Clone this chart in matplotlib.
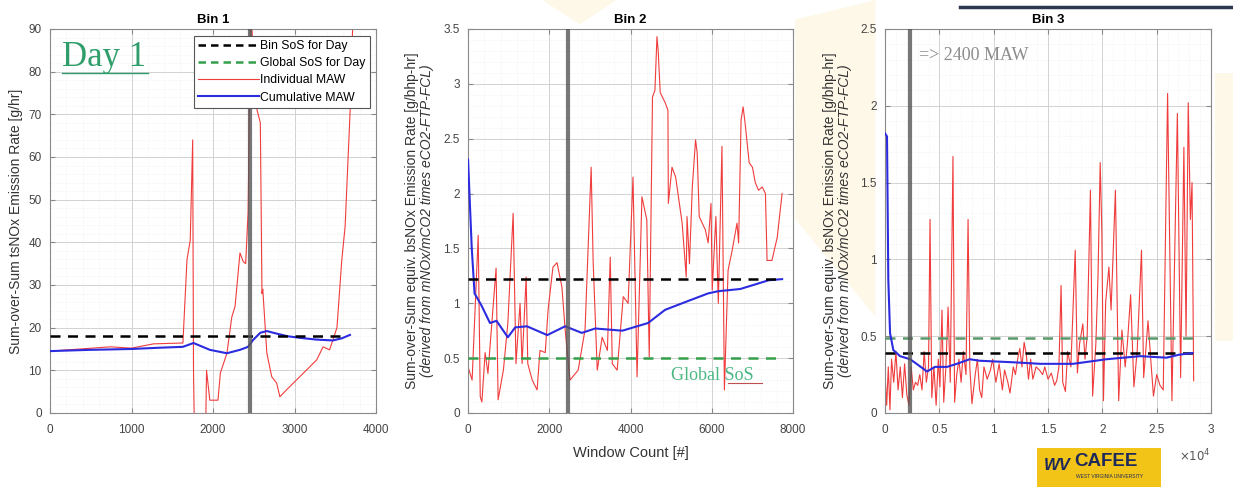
import matplotlib.pyplot as plt
import numpy as np
from matplotlib.lines import Line2D
from matplotlib.patches import Polygon, Rectangle
from matplotlib.ticker import MultipleLocator, AutoMinorLocator, FuncFormatter

plt.rcParams['font.family'] = ['Liberation Sans', 'DejaVu Sans']

# ---- Bin 1 (g/hr) ----
bin1_cum_x = [0, 500, 1000, 1350, 1630, 1760, 1960, 2170, 2330, 2430, 2490, 2580, 2660,
              2760, 2910, 3070, 3270, 3470, 3580, 3680]
bin1_cum_y = [14.5, 14.8, 15.0, 15.3, 15.5, 16.4, 14.8, 14.0, 14.8, 15.5, 17.1, 18.8, 19.2,
              18.7, 18.0, 17.6, 17.2, 17.0, 17.5, 18.3]
bin1_ind_x = [0, 740, 1000, 1270, 1630, 1680, 1720, 1750, 1760, 1770, 1910, 1920, 1960, 2060,
              2090, 2170, 2230, 2270, 2330, 2370, 2400, 2430, 2460, 2540, 2580, 2600, 2610,
              2660, 2720, 2780, 2820, 2900, 3270, 3350, 3430, 3520, 3580, 3620, 3680, 3720]
bin1_ind_y = [14.5, 15.5, 15.2, 16.2, 16.4, 35.9, 40.5, 64.0, 10.0, -3.0, -3.0, 10.0, 3.0, 3.0,
              9.4, 14.0, 22.5, 25.0, 37.5, 35.5, 35.0, 47.0, 95.0, 71.0, 68.0, 28.0, 29.0,
              14.0, 8.5, 7.0, 3.8, 5.4, 12.4, 15.5, 14.8, 20.0, 36.0, 43.6, 70.0, 95.0]
bin1_sos = 18.1
bin1_end = 3560
bin1_marker = 2450

# ---- Bin 2 (g/bhp-hr) ----
bin2_cum_x = [0, 90, 160, 330, 540, 700, 980, 1160, 1450, 1950, 2390, 2800, 3130, 3800,
              4430, 4850, 5340, 5910, 6160, 6700, 7140, 7400, 7730]
bin2_cum_y = [2.31, 1.51, 1.09, 0.98, 0.82, 0.84, 0.69, 0.78, 0.79, 0.71, 0.79, 0.73, 0.77,
              0.75, 0.82, 0.94, 1.01, 1.09, 1.11, 1.13, 1.18, 1.21, 1.22]
bin2_ind_x = [0, 100, 250, 300, 340, 420, 490, 690, 740, 870, 980, 1110, 1180, 1280, 1330,
              1430, 1470, 1580, 1700, 1770, 1900, 1970, 2090, 2190, 2310, 2390, 2510, 2710,
              2880, 3030, 3080, 3180, 3300, 3430, 3500, 3550, 3670, 3820, 3940, 4060, 4160,
              4280, 4400, 4460, 4540, 4600, 4650, 4680, 4730, 4850, 4920, 4930, 5020, 5110,
              5270, 5370, 5390, 5450, 5520, 5600, 5640, 5690, 5840, 5910, 5980, 6010, 6100,
              6160, 6250, 6310, 6400, 6500, 6620, 6660, 6720, 6770, 6820, 6920, 7000, 7070,
              7150, 7240, 7320, 7360, 7480, 7610, 7730]
bin2_ind_y = [0.42, 0.30, 1.62, 0.15, 0.10, 0.55, 0.36, 1.32, 0.12, 0.39, 0.82, 1.82, 0.45,
              1.00, 0.45, 1.24, 0.45, 0.30, 0.21, 0.57, 0.55, 0.94, 1.33, 1.37, 1.15, 0.76,
              0.30, 0.39, 0.76, 2.24, 1.37, 0.39, 0.69, 0.57, 1.42, 0.45, 0.39, 1.06, 1.00,
              2.15, 0.33, 1.97, 1.76, 0.51, 2.88, 2.94, 3.43, 3.30, 2.92, 2.83, 2.76, 1.91,
              2.24, 2.15, 1.73, 1.24, 1.79, 1.36, 2.06, 2.49, 2.37, 1.79, 1.67, 1.55, 1.91,
              1.12, 1.79, 1.00, 2.43, 0.21, 1.30, 1.48, 1.73, 1.55, 2.67, 2.79, 2.64, 2.28,
              2.24, 2.10, 2.03, 2.06, 2.00, 1.39, 1.39, 1.60, 2.00]
bin2_sos = 1.22
bin2_global = 0.5
bin2_end = 7730
bin2_marker = 2460

# ---- Bin 3 (g/bhp-hr) ----
bin3_cum_x = [0, 180, 300, 460, 760, 1380, 2300, 2900, 3860, 4600, 5700, 6600, 7800, 8700,
              11800, 14300, 17300, 20400, 23500, 25900, 27100, 28300]
bin3_cum_y = [1.82, 1.80, 0.87, 0.52, 0.41, 0.37, 0.35, 0.32, 0.27, 0.30, 0.30, 0.32, 0.35,
              0.34, 0.33, 0.32, 0.32, 0.35, 0.37, 0.36, 0.38, 0.39]
bin3_ind_x = [0, 150, 300, 450, 600, 800, 1000, 1200, 1400, 1600, 1800, 2000, 2200, 2400,
              2600, 2800, 3000, 3200, 3400, 3600, 3800, 4000, 4140, 4300, 4500, 4700, 4900,
              5050, 5240, 5400, 5600, 5800, 6000, 6250, 6400, 6600, 6800, 7000, 7200, 7450,
              7640, 7800, 8000, 8300, 8500, 8700, 8900, 9100, 9400, 9700, 9900, 10200, 10500,
              10800, 11000, 11300, 11500, 11800, 12000, 12200, 12400, 12600, 12800, 13000,
              13200, 13400, 13600, 13900, 14200, 14500, 14700, 15000, 15300, 15600, 15800,
              16000, 16200, 16350, 16600, 16800, 17100, 17500, 17700, 17900, 18200, 18400,
              18600, 18900, 19100, 19400, 19600, 19800, 19950, 20100, 20300, 20600, 20800,
              21200, 21500, 21800, 22100, 22300, 22600, 22900, 23200, 23600, 23800, 24200,
              24500, 24700, 25000, 25300, 25600, 26000, 26400, 26900, 27200, 27500, 27700,
              27900, 28100, 28250, 28400]
bin3_ind_y = [0.25, 0.05, 0.30, 0.02, 0.35, 0.20, 0.40, 0.15, 0.30, 0.10, 0.32, 0.12, 0.05,
              0.30, 0.15, 0.20, 0.18, 0.25, 0.15, 0.40, 0.20, 0.30, 1.26, 0.10, 0.30, 0.05,
              0.35, 0.17, 0.67, 0.07, 0.30, 0.69, 0.20, 1.67, 0.07, 0.25, 0.35, 0.20, 0.40,
              0.25, 1.26, 0.30, 0.06, 0.25, 0.35, 0.15, 0.10, 0.30, 0.22, 0.28, 0.35, 0.20,
              0.32, 0.15, 0.28, 0.20, 0.13, 0.30, 0.25, 0.35, 0.42, 0.30, 0.46, 0.38, 0.22,
              0.35, 0.22, 0.30, 0.28, 0.25, 0.30, 0.22, 0.26, 0.18, 0.21, 0.30, 0.83, 0.20,
              0.14, 0.40, 0.30, 1.06, 0.26, 0.45, 0.58, 0.35, 0.50, 1.45, 0.11, 0.45, 0.90,
              1.63, 1.18, 0.08, 0.72, 0.95, 0.67, 1.45, 0.08, 0.54, 0.30, 0.45, 0.77, 0.17,
              0.40, 1.06, 0.23, 0.60, 0.30, 0.11, 0.25, 0.18, 0.15, 2.08, 0.08, 1.95, 0.23,
              1.73, 0.50, 2.02, 1.26, 1.50, 0.21]
bin3_sos = 0.39
bin3_global = 0.49
bin3_end = 28300
bin3_marker = 2300

RED = '#f03c3c'
BLUE = '#2b2be0'
GREEN = '#34a04a'
GRAY = '#555555'
DASH = (0, (4, 3))

fig = plt.figure(figsize=(12.33, 4.87), dpi=100)

# faint slide backdrop shapes
for pts in [[(0.44, 1.0), (0.50, 1.0), (0.47, 0.95)],
            [(0.645, 0.96), (0.71, 1.0), (0.71, 0.35), (0.645, 0.55)],
            [(0.985, 0.85), (1.0, 0.85), (1.0, 0.30), (0.985, 0.30)]]:
    fig.patches.append(Polygon(pts, closed=True, transform=fig.transFigure,
                               facecolor='#fef8e8', edgecolor='none', zorder=-5))

ax1 = fig.add_axes([0.0406, 0.152, 0.2644, 0.7885])
ax2 = fig.add_axes([0.3796, 0.152, 0.2636, 0.7885])
ax3 = fig.add_axes([0.7178, 0.152, 0.2644, 0.7885])


def style_axes(ax, ymax, ystep, xmax, xstep):
    ax.set_ylim(0, ymax)
    ax.set_xlim(0, xmax)
    ax.yaxis.set_major_locator(MultipleLocator(ystep))
    ax.xaxis.set_major_locator(MultipleLocator(xstep))
    ax.yaxis.set_minor_locator(AutoMinorLocator(5))
    ax.xaxis.set_minor_locator(AutoMinorLocator(5))
    ax.grid(True, which='major', color='#d2d2d2', linewidth=0.7)
    ax.grid(True, which='minor', color='#ececec', linewidth=0.5, linestyle=':')
    ax.tick_params(which='both', direction='in', top=True, right=True,
                   labelsize=8.5, labelcolor='#444444', color='#888888')
    ax.tick_params(axis='x', pad=8)
    ax.tick_params(axis='y', pad=6)
    ax.tick_params(which='minor', length=0)
    for s in ax.spines.values():
        s.set_color('#8a8a8a')
        s.set_linewidth(0.8)
    ax.yaxis.set_major_formatter(FuncFormatter(lambda v, p: f'{v:g}'))
    ax.set_axisbelow(True)


# ---- Bin 1 ----
style_axes(ax1, 90, 10, 4000, 1000)
ax1.axvline(bin1_marker, color=GRAY, linewidth=3, alpha=0.8, zorder=4)
ax1.plot(bin1_ind_x, bin1_ind_y, color=RED, linewidth=0.8, zorder=2)
ax1.plot(bin1_cum_x, bin1_cum_y, color=BLUE, linewidth=1.5, zorder=3)
ax1.plot([0, bin1_end], [bin1_sos, bin1_sos], color='black', linestyle=DASH,
         linewidth=1.8, zorder=3)
ax1.set_title('Bin 1', fontsize=9.5, fontweight='bold', pad=4)
ax1.text(-0.105, 0.5, 'Sum-over-Sum tsNOx Emission Rate [g/hr]', transform=ax1.transAxes,
         rotation=90, ha='center', va='center', fontsize=10, color='#333333')
ax1.text(0.037, 0.904, 'Day 1', transform=ax1.transAxes, fontsize=25,
         family='Liberation Serif', color='#2f9e6b', va='baseline', ha='left')
ax1.plot([0.037, 0.30], [0.886, 0.886], transform=ax1.transAxes, color='#2f9e6b',
         linewidth=1.0, zorder=6, clip_on=False)
handles = [Line2D([], [], color='black', linestyle=(0, (3, 2)), linewidth=1.8),
           Line2D([], [], color=GREEN, linestyle=(0, (3, 2)), linewidth=1.8),
           Line2D([], [], color=RED, linewidth=0.8),
           Line2D([], [], color=BLUE, linewidth=1.5)]
leg = ax1.legend(handles, ['Bin SoS for Day', 'Global SoS for Day', 'Individual MAW',
                           'Cumulative MAW'],
                 loc='upper right', bbox_to_anchor=(0.981, 0.982), fontsize=8.8,
                 fancybox=False, framealpha=1, edgecolor='#555555', handlelength=5.0,
                 handletextpad=0.1, borderpad=0.35, labelspacing=0.42, borderaxespad=0)
leg.get_frame().set_linewidth(0.8)
leg.set_zorder(10)

# ---- Bin 2 ----
style_axes(ax2, 3.5, 0.5, 8000, 2000)
ax2.axvline(bin2_marker, color=GRAY, linewidth=3, alpha=0.8, zorder=4)
ax2.plot(bin2_ind_x, bin2_ind_y, color=RED, linewidth=0.8, zorder=2)
ax2.plot(bin2_cum_x, bin2_cum_y, color=BLUE, linewidth=1.5, zorder=3)
ax2.plot([0, bin2_end], [bin2_sos, bin2_sos], color='black', linestyle=DASH,
         linewidth=1.8, zorder=3)
ax2.plot([0, bin2_end], [bin2_global, bin2_global], color=GREEN, linestyle=DASH,
         linewidth=1.8, zorder=3)
ax2.set_title('Bin 2', fontsize=9.5, fontweight='bold', pad=4)
ax2.set_xlabel('Window Count [#]', fontsize=10.5, color='#333333', labelpad=7)
ax2.text(-0.172, 0.5, 'Sum-over-Sum equiv. bsNOx Emission Rate [g/bhp-hr]',
         transform=ax2.transAxes, rotation=90, ha='center', va='center', fontsize=10,
         color='#333333')
ax2.text(-0.126, 0.5, '(derived from mNOx/mCO2 times eCO2-FTP-FCL)',
         transform=ax2.transAxes, rotation=90, ha='center', va='center', fontsize=10,
         color='#333333', style='italic')
ax2.text(0.625, 0.097, 'Global SoS', transform=ax2.transAxes, fontsize=13,
         family='Liberation Serif', color='#4cb884', ha='left', va='center', zorder=6)
ax2.plot([0.80, 0.905], [0.078, 0.078], transform=ax2.transAxes, color='#c0504d',
         linewidth=0.8, zorder=6)

# ---- Bin 3 ----
style_axes(ax3, 2.5, 0.5, 30000, 5000)
ax3.xaxis.set_major_formatter(FuncFormatter(lambda v, p: f'{v / 1e4:g}'))
ax3.axvline(bin3_marker, color=GRAY, linewidth=3, alpha=0.8, zorder=4)
ax3.plot(bin3_ind_x, bin3_ind_y, color=RED, linewidth=0.8, zorder=2)
ax3.plot([0, bin3_end], [bin3_global, bin3_global], color='#5a9a6a',
         linestyle=DASH, linewidth=1.8, zorder=3)
ax3.plot([0, bin3_end], [bin3_sos, bin3_sos], color='black', linestyle=DASH,
         linewidth=1.8, zorder=3)
ax3.plot(bin3_cum_x, bin3_cum_y, color=BLUE, linewidth=1.5, zorder=3)
ax3.set_title('Bin 3', fontsize=9.5, fontweight='bold', pad=4)
ax3.text(-0.169, 0.5, 'Sum-over-Sum equiv. bsNOx Emission Rate [g/bhp-hr]',
         transform=ax3.transAxes, rotation=90, ha='center', va='center', fontsize=10,
         color='#333333')
ax3.text(-0.123, 0.5, '(derived from mNOx/mCO2 times eCO2-FTP-FCL)',
         transform=ax3.transAxes, rotation=90, ha='center', va='center', fontsize=10,
         color='#333333', style='italic')
ax3.text(0.105, 0.93, '=> 2400 MAW', transform=ax3.transAxes, fontsize=13,
         family='Liberation Serif', color='#8c8c8c', ha='left', va='center')
ax3.text(1.0, -0.09, r'$\times10^4$', transform=ax3.transAxes, fontsize=8.5,
         color='#555555', ha='right', va='top')

# slide decorations: header rule and logo badge
fig.add_artist(Line2D([960 / 1233, 1.0], [1 - 7 / 487, 1 - 7 / 487], color='#2c3850',
                      linewidth=2.5, transform=fig.transFigure))
fig.patches.append(Rectangle((1037 / 1233, 0.0), 124 / 1233, 39 / 487,
                             transform=fig.transFigure, facecolor='#f2c418',
                             edgecolor='none', zorder=5))
fig.text(1074 / 1233, 25 / 487, 'CAFEE', fontsize=13.5, fontweight='bold', color='#1f2a5a',
         ha='left', va='center', zorder=6)
fig.text(1076 / 1233, 10 / 487, 'WEST VIRGINIA UNIVERSITY', fontsize=3.5,
         color='#1f2a5a', ha='left', va='center', zorder=6)
fig.text(1057 / 1233, 21 / 487, 'WV', fontsize=12, fontweight='bold', color='#1f2a5a',
         ha='center', va='center', zorder=6, style='italic')

fig.savefig('out.png', dpi=100)
